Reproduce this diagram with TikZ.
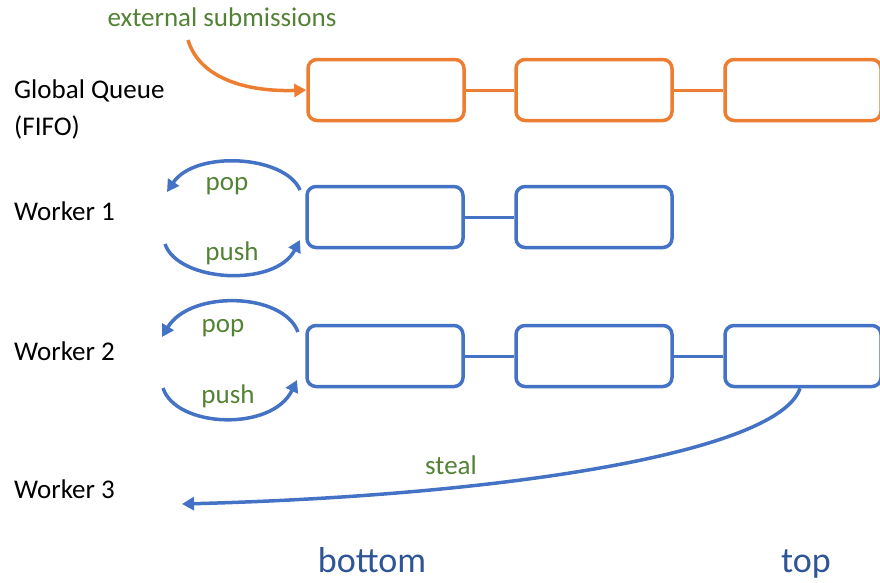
\documentclass[tikz,border=0pt]{standalone}
\usepackage{fontspec}
\setmainfont{Carlito}
\usetikzlibrary{arrows.meta,calc}
\definecolor{qorange}{HTML}{ED7D31}
\definecolor{qblue}{HTML}{4472C4}
\definecolor{qgreen}{HTML}{548235}
\definecolor{qdark}{HTML}{2F5597}
\begin{document}
\begin{tikzpicture}[x=1pt,y=-1pt,
  box/.style={draw,line width=3.5pt,rounded corners=9pt,minimum width=156pt,minimum height=61pt,inner sep=0pt},
  obox/.style={box,draw=qorange},
  bbox/.style={box,draw=qblue},
  link/.style={line width=3pt},
  arr/.style={line width=3.5pt,-{Triangle[length=12pt,width=13pt]}},
  lbl/.style={font=\fontsize{27}{32}\selectfont,anchor=west,inner sep=0pt},
  glbl/.style={font=\fontsize{27}{32}\selectfont,text=qgreen,inner sep=0pt},
  endlbl/.style={font=\fontsize{36}{42}\selectfont,text=qdark,inner sep=0pt,anchor=base}]
\useasboundingbox (0,0) rectangle (880,582);
% global queue
\node[obox] (g1) at (386,90) {};
\node[obox] (g2) at (594,90) {};
\node[obox] (g3) at (803,90) {};
\draw[link,qorange] (g1) -- (g2);
\draw[link,qorange] (g2) -- (g3);
% worker 1
\node[bbox] (w1a) at (385,217) {};
\node[bbox] (w1b) at (594,217) {};
\draw[link,qblue] (w1a) -- (w1b);
% worker 2
\node[bbox] (w2a) at (385,356) {};
\node[bbox] (w2b) at (594,356) {};
\node[bbox] (w2c) at (803,356) {};
\draw[link,qblue] (w2a) -- (w2b);
\draw[link,qblue] (w2b) -- (w2c);
% labels
\node[lbl,anchor=west] (lgq) at (14,91) {Global Queue};
\node[lbl,anchor=west] (lfifo) at (14,127) {(FIFO)};
\node[lbl] (lw1) at (14,211) {Worker 1};
\node[lbl] (lw2) at (14,351) {Worker 2};
\node[lbl] (lw3) at (14,489) {Worker 3};
\node[glbl] (ext) at (222,17) {external submissions};
\node[glbl] (pop1) at (227,186) {pop};
\node[glbl] (push1) at (232,253) {push};
\node[glbl] (pop2) at (223,328) {pop};
\node[glbl] (push2) at (228,396) {push};
\node[glbl] (steal) at (451,465) {steal};
\node[endlbl] (bot) at (372,572) {bottom};
\node[endlbl] (top) at (806,572) {top};
% external submissions arrow
\coordinate (exs) at (188,40);
\draw[arr,qorange] (exs) .. controls (200,80) and (250,92) .. (g1.west);
% worker 1 pop/push
\coordinate (p1s) at (300,190);
\coordinate (p1e) at (167,192);
\coordinate (u1s) at (165,244);
\coordinate (u1e) at (300,240);
\draw[arr,qblue] (p1s) .. controls (285,155) and (195,150) .. (p1e);
\draw[arr,qblue] (u1s) .. controls (178,282) and (275,288) .. (u1e);
% worker 2 pop/push
\coordinate (p2s) at (298,332);
\coordinate (p2e) at (162,337);
\coordinate (u2s) at (163,388);
\coordinate (u2e) at (297,380);
\draw[arr,qblue] (p2s) .. controls (283,292) and (190,290) .. (p2e);
\draw[arr,qblue] (u2s) .. controls (176,428) and (272,432) .. (u2e);
% steal
\coordinate (w3) at (182,504);
\draw[arr,qblue] ($(w2c.south)+(-3,0)$) .. controls (780,450) and (520,495) .. (w3);
\end{tikzpicture}
\end{document}
